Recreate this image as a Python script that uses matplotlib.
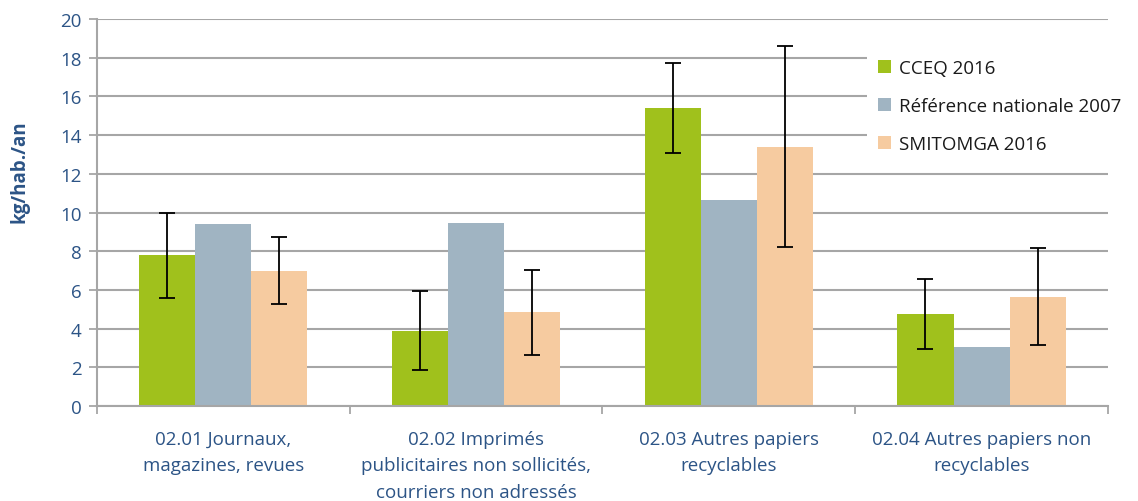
import matplotlib
matplotlib.use("Agg")
import matplotlib.pyplot as plt
import numpy as np

plt.rcParams['font.family'] = ['Open Sans', 'DejaVu Sans']

categories = [
    "02.01 Journaux,\nmagazines, revues",
    "02.02 Imprimés\npublicitaires non sollicités,\ncourriers non adressés",
    "02.03 Autres papiers\nrecyclables",
    "02.04 Autres papiers non\nrecyclables",
]
series_names = ["CCEQ 2016", "Référence nationale 2007", "SMITOMGA 2016"]
cceq_2016 = [7.8, 3.9, 15.4, 4.75]
ref_nat_2007 = [9.4, 9.45, 10.65, 3.05]
smitomga_2016 = [7.0, 4.85, 13.4, 5.65]
cceq_err = [2.2, 2.05, 2.35, 1.8]
smitomga_err = [1.75, 2.2, 5.2, 2.5]
yticks = [0, 2, 4, 6, 8, 10, 12, 14, 16, 18, 20]

colors = ["#A0C11C", "#A0B4C2", "#F6CBA0"]
text_blue = "#2C5486"
grid_gray = "#A6A6A6"
fs = 13.5

fig = plt.figure(figsize=(11.38, 5.02), dpi=100)
ax = fig.add_axes([0.0852, 0.1892, 0.8884, 0.771])

x = np.arange(len(categories))
w = 0.222
vals = [cceq_2016, ref_nat_2007, smitomga_2016]
errs = [cceq_err, None, smitomga_err]
for i, (v, e, c, name) in enumerate(zip(vals, errs, colors, series_names)):
    pos = x + (i - 1) * w
    ax.bar(pos, v, width=w, color=c, label=name, zorder=2)
    if e is not None:
        ax.errorbar(pos, v, yerr=e, fmt="none", ecolor="black",
                    elinewidth=1.3, capsize=6, capthick=1.3, zorder=3)

ax.set_xlim(-0.5, len(categories) - 0.5)
ax.set_ylim(0, 20)
ax.set_yticks(yticks)
ax.yaxis.grid(True, color=grid_gray, linewidth=1.5, zorder=0)
ax.set_axisbelow(True)

ax.set_xticks(x)
ax.set_xticklabels(categories, fontsize=fs, color=text_blue, linespacing=1.62)
ax.tick_params(axis="x", length=0, pad=17)
ax.set_xticks(np.arange(-0.5, len(categories)), minor=True)
ax.tick_params(axis="x", which="minor", length=6, color=grid_gray, width=1.3)
ax.tick_params(axis="y", length=6, color=grid_gray, width=1.3,
               labelsize=fs, labelcolor=text_blue, pad=5)

for s in ["top", "right"]:
    ax.spines[s].set_visible(False)
for s in ["left", "bottom"]:
    ax.spines[s].set_color(grid_gray)
    ax.spines[s].set_linewidth(1.5)

ax.set_ylabel("kg/hab./an", fontsize=fs, fontweight="bold", color=text_blue)
ax.yaxis.set_label_coords(-0.067, 0.607)

leg = ax.legend(loc="upper left", bbox_to_anchor=(0.752, 0.95), fontsize=fs,
                frameon=True, facecolor="white", edgecolor="none", framealpha=1,
                handlelength=0.7, handleheight=0.7, handletextpad=0.45,
                labelspacing=1.08, borderpad=0.6, fancybox=False)
for t in leg.get_texts():
    t.set_color("#1A1A1A")

fig.savefig("out.png", dpi=100)
